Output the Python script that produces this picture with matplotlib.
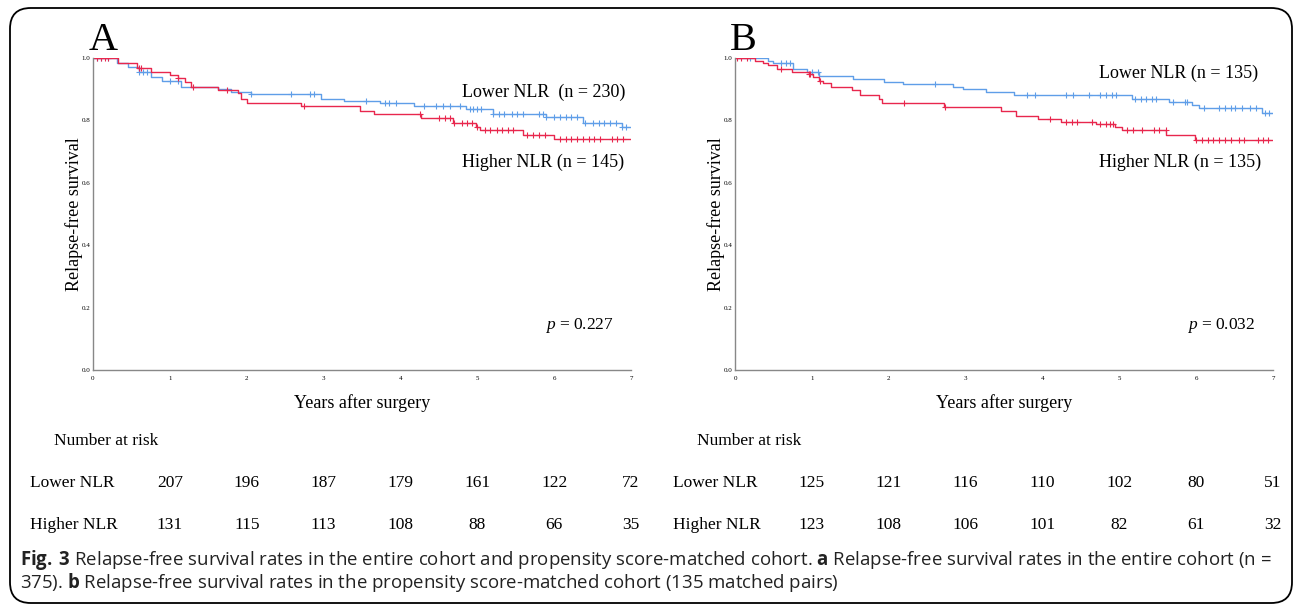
import numpy as np
import matplotlib.pyplot as plt
from matplotlib.patches import FancyBboxPatch
from matplotlib.transforms import blended_transform_factory

# panel A - entire cohort (step times in years, survival after step)
a_low_t = [0, 0.31, 0.45, 0.6, 0.75, 0.9, 1.15, 1.62, 1.8, 2.06, 2.97, 3.27, 3.73, 4.18, 4.85, 5.2, 5.89, 6.37, 6.88, 7.0]
a_low_s = [1.0, 0.985, 0.97, 0.955, 0.94, 0.925, 0.908, 0.900, 0.892, 0.884, 0.870, 0.862, 0.855, 0.846, 0.836, 0.822, 0.812, 0.793, 0.778, 0.778]
a_high_t = [0, 0.33, 0.57, 0.76, 1.0, 1.1, 1.2, 1.28, 1.62, 1.89, 1.93, 2.01, 2.71, 3.47, 3.66, 4.27, 4.68, 4.98, 5.03, 5.59, 6.0, 7.0]
a_high_s = [1.0, 0.983, 0.967, 0.956, 0.945, 0.935, 0.924, 0.908, 0.897, 0.887, 0.868, 0.855, 0.847, 0.831, 0.822, 0.807, 0.793, 0.780, 0.769, 0.753, 0.739, 0.739]
a_low_cens = [0.05, 0.1, 0.2, 0.6, 0.65, 0.7, 1.0, 1.1, 2.06, 2.58, 2.82, 2.88, 3.55, 3.8, 3.85, 3.94, 4.3, 4.46, 4.55, 4.65, 4.77,
              4.9, 4.95, 5.0, 5.05, 5.2, 5.28, 5.35, 5.45, 5.52, 5.6, 5.8, 5.85, 5.9, 6.0, 6.08, 6.15, 6.22, 6.3,
              6.4, 6.5, 6.58, 6.65, 6.72, 6.8, 6.88, 6.93]
a_high_cens = [0.05, 0.1, 0.15, 0.2, 0.6, 0.62, 1.1, 1.3, 1.75, 2.74, 4.26, 4.5, 4.58, 4.65, 4.7, 4.8, 4.87, 4.93, 5.0,
               5.1, 5.17, 5.25, 5.32, 5.4, 5.47, 5.65, 5.72, 5.8, 5.88, 6.07, 6.15, 6.22, 6.3, 6.37, 6.45, 6.52, 6.6,
               6.75, 6.82, 6.9]

# panel B - propensity score-matched cohort
b_low_t = [0, 0.43, 0.5, 0.76, 0.94, 1.09, 1.54, 1.94, 2.18, 2.83, 2.96, 3.26, 3.63, 5.16, 5.64, 5.94, 6.03, 6.85, 7.0]
b_low_s = [1.0, 0.991, 0.983, 0.965, 0.956, 0.942, 0.933, 0.924, 0.917, 0.908, 0.900, 0.892, 0.881, 0.868, 0.858, 0.849, 0.839, 0.825, 0.825]
b_high_t = [0, 0.26, 0.37, 0.43, 0.54, 0.74, 0.96, 1.02, 1.09, 1.15, 1.25, 1.52, 1.63, 1.87, 1.91, 2.72, 3.46, 3.66, 3.94,
            4.24, 4.7, 4.94, 5.03, 5.61, 5.98, 7.0]
b_high_s = [1.0, 0.991, 0.983, 0.978, 0.965, 0.956, 0.949, 0.938, 0.927, 0.919, 0.906, 0.897, 0.881, 0.868, 0.855, 0.844,
            0.830, 0.814, 0.803, 0.796, 0.790, 0.780, 0.769, 0.753, 0.737, 0.737]
b_low_cens = [0.2, 0.6, 0.66, 0.72, 1.0, 1.08, 2.6, 3.8, 3.9, 4.3, 4.4, 4.6, 4.75, 4.82, 4.9, 4.95, 5.2, 5.28, 5.35, 5.42,
              5.48, 5.7, 5.85, 5.88, 6.1, 6.3, 6.38, 6.45, 6.5, 6.6, 6.7, 6.78, 6.9, 6.95]
b_high_cens = [0.03, 0.08, 0.15, 0.6, 0.96, 0.98, 1.1, 2.2, 2.73, 4.1, 4.3, 4.38, 4.45, 4.65, 4.75, 4.82, 4.88, 4.92,
               5.1, 5.18, 5.3, 5.45, 5.52, 5.6, 6.0, 6.08, 6.15, 6.22, 6.3, 6.38, 6.45, 6.55, 6.62, 6.8, 6.87, 6.93]

years = [1, 2, 3, 4, 5, 6, 7]
a_risk_low = [207, 196, 187, 179, 161, 122, 72]
a_risk_high = [131, 115, 113, 108, 88, 66, 35]
b_risk_low = [125, 121, 116, 110, 102, 80, 51]
b_risk_high = [123, 108, 106, 101, 82, 61, 32]

BLUE = '#5f9ee8'
RED = '#e8274d'
SERIF = 'Liberation Serif'

# custom mathtext: italic p in serif, bold caption bits in sans
plt.rcParams['mathtext.fontset'] = 'custom'
plt.rcParams['mathtext.it'] = 'Liberation Serif:italic'
plt.rcParams['mathtext.rm'] = 'Open Sans'
plt.rcParams['mathtext.bf'] = 'Open Sans:bold'

fig = plt.figure(figsize=(12.95, 6.07), dpi=100)
fig.patches.append(FancyBboxPatch((10/1295, 4/607), 1282/1295, 595/607, boxstyle='round,pad=0,rounding_size=0.016',
                                  transform=fig.transFigure, fill=False, ec='black', lw=1.3, mutation_aspect=1295/607))


def step_at(t, ts, ss):
    i = np.searchsorted(ts, t, side='right') - 1
    return np.array(ss)[i]


def km_panel(left, letter, low, high, low_lab, high_lab, pval, lab_x, low_y, high_y, risk_low, risk_high, lab_px):
    ax = fig.add_axes([left, 0.3904, 0.4155, 0.514])
    for (t, s, c), col in zip([low, high], [BLUE, RED]):
        ax.step(t, s, where='post', color=col, lw=1.0)
        c = np.array(c)
        ax.plot(c, step_at(c, t, s), '+', color=col, ms=5, mew=0.8)
    ax.set_xlim(0, 7)
    ax.set_ylim(0, 1.0)
    ax.set_xticks(range(8))
    ax.set_yticks([0, 0.2, 0.4, 0.6, 0.8, 1.0])
    ax.set_yticklabels(['0.0', '0.2', '0.4', '0.6', '0.8', '1.0'])
    ax.tick_params(axis='x', length=0, labelsize=5, pad=4)
    ax.tick_params(axis='y', length=0, labelsize=5, pad=2)
    for lab in ax.get_xticklabels() + ax.get_yticklabels():
        lab.set_fontfamily(SERIF)
    for sp in ['top', 'right']:
        ax.spines[sp].set_visible(False)
    for sp in ['left', 'bottom']:
        ax.spines[sp].set_color('#888888')
        ax.spines[sp].set_linewidth(1.0)
    ax.set_ylabel('Relapse-free survival', fontsize=13, family=SERIF, labelpad=-1)
    ax.set_xlabel('Years after surgery', fontsize=13, family=SERIF, labelpad=10)
    ax.text(-0.009, 1.055, letter, fontsize=29, family=SERIF, transform=ax.transAxes, va='center')
    ax.text(lab_x, low_y, low_lab, fontsize=13, family=SERIF, va='center')
    ax.text(lab_x, high_y, high_lab, fontsize=13, family=SERIF, va='center')
    ax.text(6.33, 0.144, r'$p$ = ' + pval, fontsize=12.5, family=SERIF, ha='center', va='center')

    # number at risk table
    tr = blended_transform_factory(ax.transData, fig.transFigure)
    fig.text(lab_px / 1295 + 24 / 1295, 1 - 441 / 607, 'Number at risk', fontsize=12.5, family=SERIF, va='center')
    fig.text(lab_px / 1295, 1 - 483 / 607, 'Lower NLR', fontsize=12.5, family=SERIF, va='center')
    fig.text(lab_px / 1295, 1 - 525 / 607, 'Higher NLR', fontsize=12.5, family=SERIF, va='center')
    for yr, n1, n2 in zip(years, risk_low, risk_high):
        ax.text(yr, 1 - 483 / 607, str(n1), transform=tr, fontsize=12.5, family=SERIF, ha='center', va='center')
        ax.text(yr, 1 - 525 / 607, str(n2), transform=tr, fontsize=12.5, family=SERIF, ha='center', va='center')
    return ax


km_panel(0.0718, 'A', (a_low_t, a_low_s, a_low_cens), (a_high_t, a_high_s, a_high_cens),
         'Lower NLR  (n = 230)', 'Higher NLR (n = 145)', '0.227', 4.8, 0.89, 0.667,
         a_risk_low, a_risk_high, 30)
km_panel(0.5676, 'B', (b_low_t, b_low_s, b_low_cens), (b_high_t, b_high_s, b_high_cens),
         'Lower NLR (n = 135)', 'Higher NLR (n = 135)', '0.032', 4.74, 0.952, 0.667,
         b_risk_low, b_risk_high, 673)

fig.text(20 / 1295, 1 - 560 / 607,
         r'$\bf{Fig.\ 3}$ Relapse-free survival rates in the entire cohort and propensity score-matched cohort. '
         r'$\bf{a}$ Relapse-free survival rates in the entire cohort (n =',
         fontsize=13.45, family='Open Sans', va='center', color='#222222')
fig.text(20 / 1295, 1 - 583 / 607,
         r'375). $\bf{b}$ Relapse-free survival rates in the propensity score-matched cohort (135 matched pairs)',
         fontsize=13.45, family='Open Sans', va='center', color='#222222')

plt.savefig('out.png', dpi=100)
